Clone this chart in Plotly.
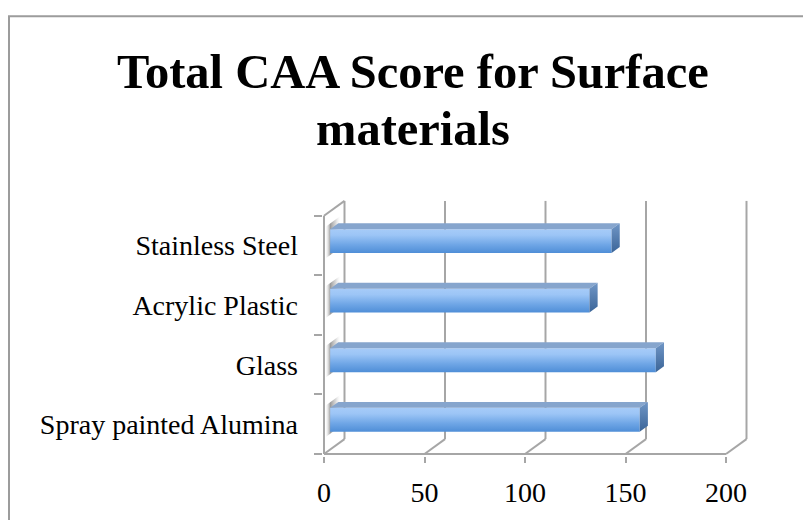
import plotly.graph_objects as go

# ---- data -------------------------------------------------------------
categories = ["Spray painted Alumina", "Glass", "Acrylic Plastic", "Stainless Steel"]
scores = [154, 162, 129, 140]
x_ticks = [0, 50, 100, 150, 200]
title_lines = ["Total CAA Score for Surface", "materials"]

# ---- geometry of the pseudo-3D frame (in axis units) ------------------
W, H = 803, 520
X0_PX = 324          # pixel of value 0 on the front plane
PX_PER_UNIT = 2.01   # pixels per score unit
Y_BASE_PX = 456      # pixel of the front floor edge
PX_PER_CAT = 60      # pixels per category band
PLOT_L, PLOT_R, PLOT_T, PLOT_B = 323, 790, 190, 458

DX = 20.5 / PX_PER_UNIT      # depth offset along x (units)
DY = 15.0 / PX_PER_CAT       # depth offset along y (category units)
BAR_H = 0.4                  # bar thickness (category units)
BAR_D0, BAR_D1 = 0.3, 0.7    # bar position inside the depth

x_range = [-(X0_PX - PLOT_L) / PX_PER_UNIT, (PLOT_R - X0_PX) / PX_PER_UNIT]
y_range = [-0.5 - (PLOT_B - Y_BASE_PX) / PX_PER_CAT, -0.5 + (Y_BASE_PX - PLOT_T) / PX_PER_CAT]
n = len(categories)
y_lo, y_hi = -0.5, n - 0.5

GRID = "#a6a6a6"
FONT = "Liberation Serif"

fig = go.Figure()


def add_lines(xs, ys):
    fig.add_trace(go.Scatter(x=xs, y=ys, mode="lines", line=dict(color=GRID, width=2),
                             hoverinfo="skip", showlegend=False))


# back wall gridlines and floor diagonals
gx, gy = [], []
for t in x_ticks:
    gx += [t + DX, t + DX, None, t, t + DX, None]
    gy += [y_lo + DY, y_hi + DY, None, y_lo, y_lo + DY, None]
# front floor edge, left axis and the left wall top edge
gx += [x_ticks[0], x_ticks[-1], None, 0, 0, None, 0, DX]
gy += [y_lo, y_lo, None, y_lo, y_hi, None, y_hi, y_hi + DY]

# bars: wall shadow, front face, top face, end face
for i, v in enumerate(scores):
    x0 = BAR_D0 * DX
    yb = i - BAR_H / 2 + BAR_D0 * DY
    yt = i + BAR_H / 2 + BAR_D0 * DY
    dx = (BAR_D1 - BAR_D0) * DX
    dy = (BAR_D1 - BAR_D0) * DY

    # soft shadow cast on the left wall
    fig.add_trace(go.Scatter(
        x=[0.1 * DX, 0.8 * DX, 0.8 * DX, 0.1 * DX, 0.1 * DX],
        y=[yb - 0.1 * DY - 0.06, yb + 0.6 * DY - 0.06, yt + 0.8 * DY + 0.02, yt + 0.1 * DY + 0.02,
           yb - 0.1 * DY - 0.06],
        mode="lines", fill="toself", line=dict(color="rgba(0,0,0,0)", width=0),
        fillgradient=dict(type="horizontal", colorscale=[
            [0, "rgba(210,210,210,0.1)"], [0.3, "rgba(120,120,120,0.75)"],
            [0.65, "rgba(170,170,170,0.5)"], [1, "rgba(235,235,235,0.0)"]]),
        hoverinfo="skip", showlegend=False))

add_lines(gx, gy)

for i, v in enumerate(scores):
    x0 = BAR_D0 * DX
    yb = i - BAR_H / 2 + BAR_D0 * DY
    yt = i + BAR_H / 2 + BAR_D0 * DY
    dx = (BAR_D1 - BAR_D0) * DX
    dy = (BAR_D1 - BAR_D0) * DY

    # front face
    fig.add_trace(go.Scatter(
        x=[x0, x0 + v, x0 + v, x0, x0], y=[yb, yb, yt, yt, yb],
        mode="lines", fill="toself", line=dict(color="rgba(0,0,0,0)", width=0),
        fillgradient=dict(type="vertical", colorscale=[
            [0, "#4f8ed7"], [0.35, "#6fa6e6"], [0.75, "#9cc5f6"], [1, "#a6cbf8"]]),
        name=categories[i], hovertemplate="%{fullData.name}<extra></extra>", showlegend=False))

    # top face
    fig.add_trace(go.Scatter(
        x=[x0, x0 + v, x0 + v + dx, x0 + dx, x0], y=[yt, yt, yt + dy, yt + dy, yt],
        mode="lines", fill="toself", line=dict(color="rgba(0,0,0,0)", width=0),
        fillcolor="#86a5cd", hoverinfo="skip", showlegend=False))

    # end face
    fig.add_trace(go.Scatter(
        x=[x0 + v, x0 + v + dx, x0 + v + dx, x0 + v, x0 + v], y=[yb, yb + dy, yt + dy, yt, yb],
        mode="lines", fill="toself", line=dict(color="rgba(0,0,0,0)", width=0),
        fillgradient=dict(type="vertical", colorscale=[[0, "#3b6598"], [1, "#7096c6"]]),
        hoverinfo="skip", showlegend=False))


def px_x(px):
    return (px - PLOT_L) / (PLOT_R - PLOT_L)


def px_y(py):
    return (PLOT_B - py) / (PLOT_B - PLOT_T)


# outer chart border
fig.add_shape(type="rect", xref="paper", yref="paper",
              x0=px_x(9), x1=px_x(818), y0=px_y(530), y1=px_y(15),
              line=dict(color="#9c9c9c", width=2), fillcolor="rgba(0,0,0,0)")

# title, two centred lines
for line_text, base_px in zip(title_lines, [88, 145]):
    fig.add_annotation(text=f"<b>{line_text}</b>", xref="paper", yref="paper",
                       x=px_x(413), y=px_y(base_px - 17), xanchor="center", yanchor="middle",
                       showarrow=False, font=dict(family=FONT, size=48.5, color="black"))

fig.update_layout(
    width=W, height=H,
    margin=dict(l=PLOT_L, r=W - PLOT_R, t=PLOT_T, b=H - PLOT_B, pad=0),
    paper_bgcolor="white", plot_bgcolor="white",
    showlegend=False,
    xaxis=dict(range=x_range, tickvals=x_ticks, ticktext=[str(t) for t in x_ticks],
               ticks="outside", ticklen=6, tickwidth=2, tickcolor=GRID,
               showgrid=False, zeroline=False, showline=False, fixedrange=True,
               tickfont=dict(family=FONT, size=28, color="black"), ticklabelstandoff=5),
    yaxis=dict(range=y_range, tickvals=list(range(n)), ticktext=categories,
               ticks="", showgrid=False, zeroline=False, showline=False, fixedrange=True,
               tickfont=dict(family=FONT, size=28, color="black"), ticklabelstandoff=24,
               minor=dict(tickvals=[k - 0.5 for k in range(n + 1)], ticks="outside",
                          ticklen=8, tickwidth=2, tickcolor=GRID, showgrid=False)),
)

fig.write_html("out.html")
